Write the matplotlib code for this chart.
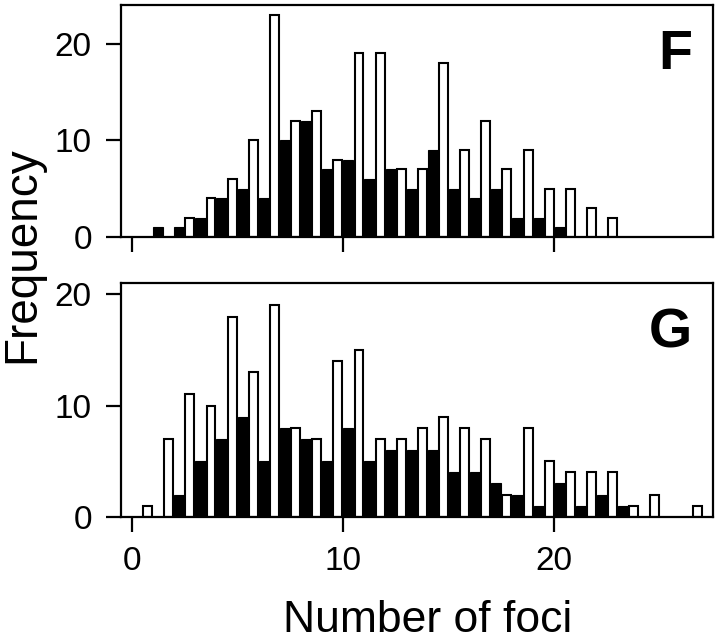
import matplotlib
matplotlib.use("Agg")
import matplotlib.pyplot as plt
import numpy as np

plt.rcParams['font.family'] = ['Liberation Sans', 'DejaVu Sans']

# number of foci per nucleus (bins)
foci = np.arange(0, 28)

# panel F: open bars / filled bars
f_open = [0, 0, 0, 2, 4, 6, 10, 23, 12, 13, 8, 19, 19, 7, 7, 18, 9, 12, 7, 9, 5, 5, 3, 2, 0, 0, 0, 0]
f_fill = [0, 1, 1, 2, 4, 5, 4, 10, 12, 7, 8, 6, 7, 5, 9, 5, 4, 5, 2, 2, 1, 0, 0, 0, 0, 0, 0, 0]

# panel G: open bars / filled bars
g_open = [0, 1, 7, 11, 10, 18, 13, 19, 8, 7, 14, 15, 7, 7, 8, 9, 8, 7, 2, 8, 5, 4, 4, 4, 1, 2, 0, 1]
g_fill = [0, 0, 2, 5, 7, 9, 5, 8, 7, 5, 8, 5, 6, 6, 6, 4, 4, 3, 2, 1, 3, 1, 2, 1, 0, 0, 0, 0]

panels = [("F", f_open, f_fill, 24), ("G", g_open, g_fill, 21)]

fig = plt.figure(figsize=(7.2, 6.42), dpi=100)
ax_f = fig.add_axes([0.168, 0.631, 0.822, 0.361])
ax_g = fig.add_axes([0.168, 0.195, 0.822, 0.364])

for ax, (name, opn, fil, ytop) in zip([ax_f, ax_g], panels):
    opn = np.array(opn)
    fil = np.array(fil)
    m = opn > 0
    ax.bar(foci[m] - 0.45, opn[m], width=0.42, align='edge',
           color='white', edgecolor='black', linewidth=1.5, zorder=2)
    m = fil > 0
    ax.bar(foci[m] + 0.02, fil[m], width=0.48, align='edge',
           color='black', edgecolor='black', linewidth=0.8, zorder=3)
    ax.set_xlim(-0.5, 27.5)
    ax.set_ylim(0, ytop)
    ax.set_xticks([0, 10, 20])
    ax.set_yticks([0, 10, 20])
    ax.tick_params(direction='out', length=11, width=1.6, labelsize=24, pad=10)
    for s in ax.spines.values():
        s.set_linewidth(1.6)
    ax.text(0.965, 0.725, name, transform=ax.transAxes, ha='right', va='baseline',
            fontsize=40, fontweight='bold')

ax_f.tick_params(axis='x', labelbottom=False)

fig.text(0.031, 0.603, "Frequency", rotation=90, ha='center', va='center', fontsize=33)
fig.text(0.594, 0.016, "Number of foci", ha='center', va='baseline', fontsize=32)

fig.savefig("out.png", dpi=100)
